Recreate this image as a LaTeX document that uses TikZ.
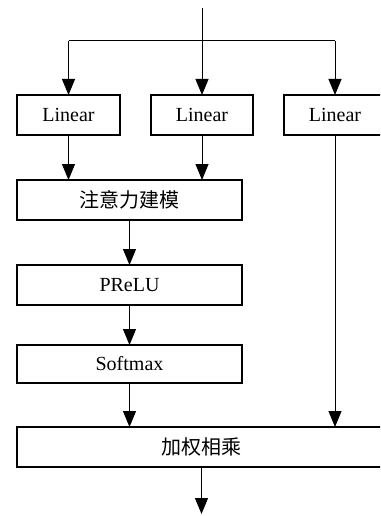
\documentclass[tikz,border=0pt]{standalone}
\usepackage{fontspec}
\setmainfont{Liberation Serif}
\newfontfamily\cjk{Noto Sans CJK SC}
\usetikzlibrary{arrows.meta}
\begin{document}
\begin{tikzpicture}[x=1pt,y=-1pt,
  box/.style={draw,line width=1.6pt,minimum height=40pt,inner sep=0pt,outer sep=0pt,font=\fontsize{20}{24}\selectfont},
  conn/.style={line width=1pt,-{Triangle[width=13pt,length=16pt]}},
  plain/.style={line width=1pt}]
\useasboundingbox (0,0) rectangle (380,516);
\clip (0,0) rectangle (380,516);
\node[box,minimum width=103pt] (lin1) at (68.5,115) {Linear};
\node[box,minimum width=102pt] (lin2) at (202,115) {Linear};
\node[box,minimum width=102pt] (lin3) at (335,115) {Linear};
\node[box,minimum width=225pt] (attn) at (129.5,200) {\cjk 注意力建模};
\node[box,minimum width=225pt] (prelu) at (129.5,285) {PReLU};
\node[box,minimum width=225pt,minimum height=38pt] (soft) at (129.5,364) {Softmax};
\node[box,minimum width=369pt] (mul) at (201.5,447) {\cjk 加权相乘};
\coordinate (in) at (202,8);
\coordinate (brl) at (68.5,41);
\coordinate (brr) at (335,41);
\coordinate (out) at (201.5,514);
\draw[conn] (in) -- (lin2.north);
\draw[plain] (brl) -- (brr);
\draw[conn] (brl) -- (lin1.north);
\draw[conn] (brr) -- (lin3.north);
\draw[conn] (lin1.south) -- (lin1.south |- attn.north);
\draw[conn] (lin2.south) -- (lin2.south |- attn.north);
\draw[conn] (attn.south) -- (prelu.north);
\draw[conn] (prelu.south) -- (soft.north);
\draw[conn] (soft.south) -- (soft.south |- mul.north);
\draw[conn] (lin3.south) -- (lin3.south |- mul.north);
\draw[conn] (mul.south) -- (out);
\end{tikzpicture}
\end{document}
